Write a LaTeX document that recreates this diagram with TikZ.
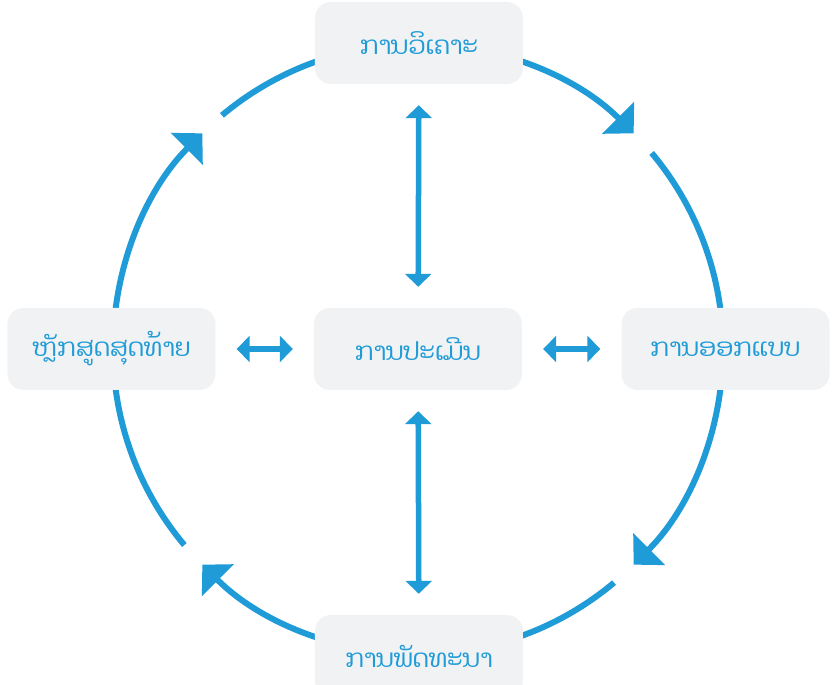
\documentclass[tikz,border=0pt]{standalone}
\usepackage{fontspec}
\newfontfamily\laofont[Script=Lao]{Dhyana}
\usepackage{xcolor}
\usepackage{tikz}
\usetikzlibrary{arrows.meta,positioning}
\definecolor{flowblue}{HTML}{1F9BD7}
\definecolor{softgray}{HTML}{F0F2F4}

\begin{document}
\begin{tikzpicture}[x=1pt,y=1pt,
    stage/.style={rounded corners=16pt,fill=softgray,minimum width=208pt,
      minimum height=82pt,text=flowblue,font=\laofont\fontsize{25}{30}\selectfont},
    loop/.style={draw=flowblue,line width=6pt},
    duo/.style={draw=flowblue,line width=5.5pt,
      {Triangle[length=13pt,width=26pt]}-{Triangle[length=13pt,width=26pt]},
      shorten <=21pt,shorten >=21pt}]
  \useasboundingbox (-418,-336) rectangle (415,349);
  \coordinate (c) at (0,0);
  % outer cycle, one quarter per stage
  \foreach \a in {90,0,-90,-180}{
    \draw[loop,-{Triangle[length=22pt,width=44pt]}] (c) ++(\a:305)
      arc[start angle=\a,end angle=\a-45,radius=305];
    \draw[loop] (c) ++(\a-50:305) arc[start angle=\a-50,end angle=\a-90,radius=305];
  }
  \node[stage] (eval) at (0,0) {ການປະເມີນ};
  \node[stage] (ana) at (1,306) {ການວິເຄາະ};
  \node[stage] (des) at (307.5,0) {ການອອກແບບ};
  \node[stage] (dev) at (1,-307) {ການພັດທະນາ};
  \node[stage] (fin) at (-306.5,0) {ຫຼັກສູດສຸດທ້າຍ};
  % links to the evaluation
  \draw[duo] (eval) -- (ana);
  \draw[duo] (eval) -- (dev);
  \draw[duo] (eval) -- (des);
  \draw[duo] (eval) -- (fin);
\end{tikzpicture}
\end{document}
